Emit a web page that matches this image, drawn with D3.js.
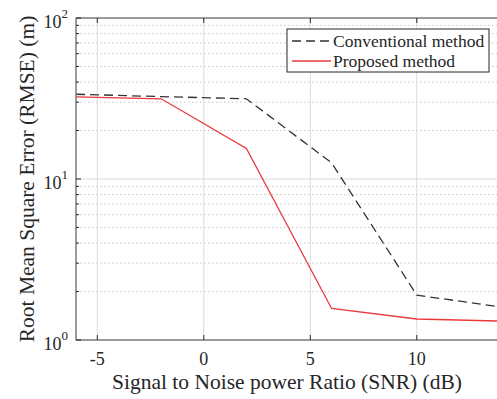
<!DOCTYPE html>
<html>
<head>
<meta charset="utf-8">
<script src="https://cdn.jsdelivr.net/npm/d3@7"></script>
<style>
	body { margin: 0; background: #fff; }
</style>
</head>
<body>
<svg id="chart"></svg>
<script>
// data
const snr = [-6, -2, 2, 6, 10, 14];
const conventional = [33.6, 32.5, 31.5, 12.6, 1.9, 1.6];
const proposed = [32.4, 31.5, 15.5, 1.57, 1.35, 1.31];
const seriesNames = ['Conventional method', 'Proposed method'];
const xTicks = [-5, 0, 5, 10];
const yDecades = [1, 10, 100];

const width = 497, height = 399;
const margin = { top: 18, left: 76, bottom: 59 };
const plotRight = 502; // the axes run past the picture edge
const serif = "'Liberation Serif'";
const textColor = '#262626';

const svg = d3.select('#chart')
	.attr('width', width)
	.attr('height', height);

const x = d3.scaleLinear().domain([-6, 14]).range([margin.left, plotRight]);
const y = d3.scaleLog().domain([1, 100]).range([height - margin.bottom, margin.top]);

// minor grid (dotted)
let minors = [];
[1, 10].forEach((d) => {
	for (let k = 2; k <= 9; k++) minors.push(d * k);
});
svg.append('g')
	.selectAll('line')
	.data(minors)
	.join('line')
	.attr('x1', margin.left).attr('x2', plotRight)
	.attr('y1', (d) => y(d)).attr('y2', (d) => y(d))
	.attr('stroke', '#c8c8c8')
	.attr('stroke-width', 1)
	.attr('stroke-dasharray', '1.5,2.5');

// major grid
svg.append('g')
	.selectAll('line')
	.data(xTicks)
	.join('line')
	.attr('x1', (d) => x(d)).attr('x2', (d) => x(d))
	.attr('y1', y(1)).attr('y2', y(100))
	.attr('stroke', '#dcdcdc');
svg.append('g')
	.selectAll('line')
	.data(yDecades.slice(1, 2))
	.join('line')
	.attr('x1', margin.left).attr('x2', plotRight)
	.attr('y1', (d) => y(d)).attr('y2', (d) => y(d))
	.attr('stroke', '#dcdcdc');

// lines
const line = (vals) => d3.line()
	.x((d, i) => x(snr[i]))
	.y((d) => y(d))(vals);

svg.append('path')
	.attr('d', line(conventional))
	.attr('fill', 'none')
	.attr('stroke', '#333')
	.attr('stroke-width', 1.3)
	.attr('stroke-dasharray', '9,5');

svg.append('path')
	.attr('d', line(proposed))
	.attr('fill', 'none')
	.attr('stroke', '#e8393d')
	.attr('stroke-width', 1.3);

// axes box
const axisColor = '#7a7a7a';
svg.append('line')
	.attr('x1', margin.left).attr('x2', plotRight)
	.attr('y1', y(1)).attr('y2', y(1))
	.attr('stroke', axisColor).attr('stroke-width', 1.5);
svg.append('line')
	.attr('x1', margin.left).attr('x2', plotRight)
	.attr('y1', y(100)).attr('y2', y(100))
	.attr('stroke', axisColor).attr('stroke-width', 1.5);
svg.append('line')
	.attr('x1', margin.left).attr('x2', margin.left)
	.attr('y1', y(1)).attr('y2', y(100))
	.attr('stroke', axisColor).attr('stroke-width', 1.5);

// inward ticks on bottom and top
svg.append('g')
	.selectAll('line')
	.data(xTicks)
	.join('line')
	.attr('x1', (d) => x(d)).attr('x2', (d) => x(d))
	.attr('y1', y(1)).attr('y2', y(1) - 5)
	.attr('stroke', textColor);
svg.append('g')
	.selectAll('line')
	.data(xTicks)
	.join('line')
	.attr('x1', (d) => x(d)).attr('x2', (d) => x(d))
	.attr('y1', y(100)).attr('y2', y(100) + 5)
	.attr('stroke', textColor);
svg.append('g')
	.selectAll('line')
	.data(yDecades.concat(minors))
	.join('line')
	.attr('x1', margin.left).attr('x2', (d) => margin.left + (yDecades.includes(d) ? 5 : 3))
	.attr('y1', (d) => y(d)).attr('y2', (d) => y(d))
	.attr('stroke', textColor);

// tick labels
svg.append('g')
	.selectAll('text')
	.data(xTicks)
	.join('text')
	.attr('x', (d) => x(d))
	.attr('y', y(1) + 25)
	.attr('text-anchor', 'middle')
	.attr('font-family', serif)
	.attr('fill', textColor)
	.style('font-size', '18px')
	.text((d) => (d < 0 ? '-' + Math.abs(d) : d));

const yLab = svg.append('g')
	.selectAll('text')
	.data(yDecades)
	.join('text')
	.attr('x', margin.left - 8)
	.attr('y', (d) => y(d) + 10)
	.attr('text-anchor', 'end')
	.attr('font-family', serif)
	.attr('fill', textColor)
	.style('font-size', '18px');
yLab.append('tspan').text('10');
yLab.append('tspan')
	.attr('dy', -10)
	.style('font-size', '13px')
	.text((d) => Math.round(Math.log10(d)));

// axis titles
svg.append('text')
	.attr('x', 287)
	.attr('y', 389)
	.attr('text-anchor', 'middle')
	.attr('font-family', serif)
	.attr('fill', textColor)
	.style('font-size', '21.5px')
	.text('Signal to Noise power Ratio (SNR) (dB)');

svg.append('text')
	.attr('transform', `translate(34,${(y(1) + y(100)) / 2}) rotate(-90)`)
	.attr('text-anchor', 'middle')
	.attr('font-family', serif)
	.attr('fill', textColor)
	.style('font-size', '21.5px')
	.text('Root Mean Square Error (RMSE) (m)');

// legend
const legend = svg.append('g').attr('transform', 'translate(287,29)');
legend.append('rect')
	.attr('width', 202).attr('height', 43)
	.attr('fill', '#fff')
	.attr('stroke', textColor)
	.attr('stroke-width', 1);
const legendItems = legend.selectAll('.legend-item')
	.data(seriesNames)
	.join('g')
	.attr('class', 'legend-item')
	.attr('transform', (d, i) => `translate(0,${12 + i * 20})`);
legendItems.append('line')
	.attr('x1', 5).attr('x2', 44)
	.attr('stroke', (d, i) => (i === 0 ? '#333' : '#e8393d'))
	.attr('stroke-width', 1.3)
	.attr('stroke-dasharray', (d, i) => (i === 0 ? '9,5' : null));
legendItems.append('text')
	.attr('x', 46)
	.attr('y', 6)
	.attr('font-family', serif)
	.attr('fill', textColor)
	.style('font-size', '17.5px')
	.text((d) => d);
</script>
</body>
</html>
